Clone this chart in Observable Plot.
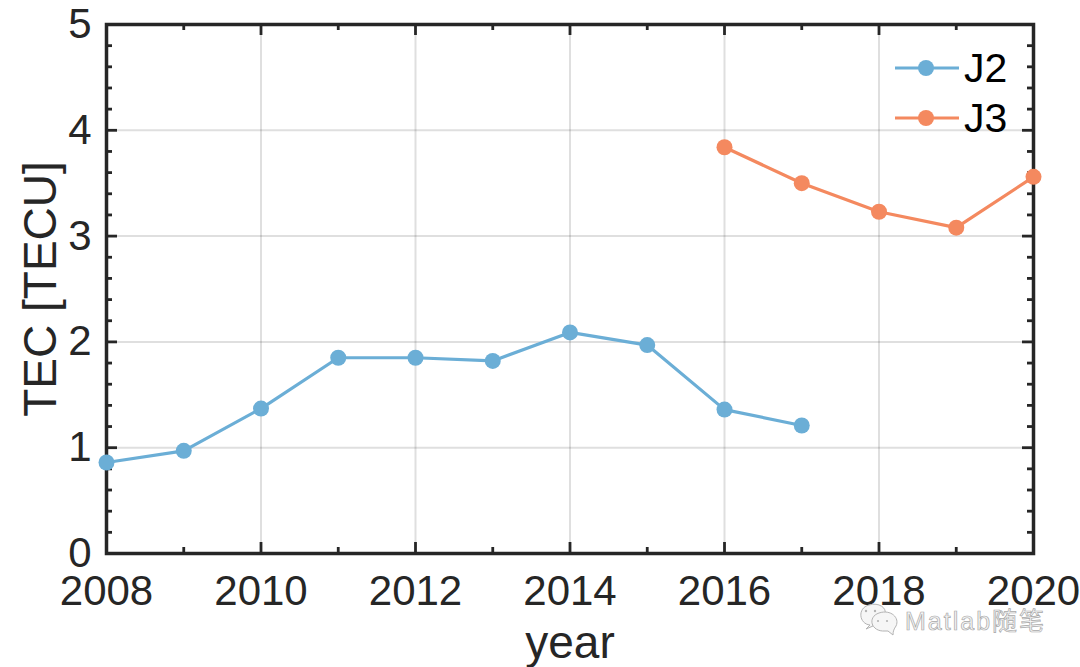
<!DOCTYPE html>
<html>
<head>
<meta charset="utf-8">
<script src="https://cdn.jsdelivr.net/npm/d3@7"></script>
<script src="https://cdn.jsdelivr.net/npm/@observablehq/plot@0.6"></script>
<style>
html,body{margin:0;padding:0;background:#fff;}
#wrap{position:relative;width:1080px;height:667px;overflow:hidden;font-family:"Liberation Sans",Arial,sans-serif;}
#wrap svg{display:block;}
.leg{position:absolute;left:964px;font-size:41px;line-height:40px;color:#000;}
.swatch{position:absolute;left:895px;}
#wm{position:absolute;left:905px;top:606px;font-size:25px;line-height:30px;letter-spacing:2px;color:#f4f4f4;-webkit-text-stroke:0.7px #a8a8a8;white-space:nowrap;font-family:"Liberation Sans","Noto Sans CJK SC",sans-serif;}
</style>
</head>
<body>
<div id="wrap"></div>
<script>
const yearsJ2 = [2008,2009,2010,2011,2012,2013,2014,2015,2016,2017];
const tecJ2 = [0.86,0.97,1.37,1.85,1.85,1.82,2.09,1.97,1.36,1.21];
const yearsJ3 = [2016,2017,2018,2019,2020];
const tecJ3 = [3.84,3.50,3.23,3.08,3.56];
const xMajor = [2008,2010,2012,2014,2016,2018,2020];
const xMinor = [2009,2011,2013,2015,2017,2019];
const yMajor = [0,1,2,3,4,5];
const yMinor = [0.2,0.4,0.6,0.8,1.2,1.4,1.6,1.8,2.2,2.4,2.6,2.8,3.2,3.4,3.6,3.8,4.2,4.4,4.6,4.8];
const blue = "#6baed6", orange = "#f4895f", ink = "#262626";

const W = 1080, H = 667, mL = 106, mR = 47, mT = 24, mB = 114;
const fw = W - mL - mR, fh = H - mT - mB;
const txt = 42, labelSize = 46;

const plot = Plot.plot({
  width: W, height: H,
  marginLeft: mL, marginRight: mR, marginTop: mT, marginBottom: mB,
  style: {background: "#fff", fontFamily: "'Liberation Sans',Arial,sans-serif", color: ink, overflow: "visible"},
  x: {domain: [2008, 2020]},
  y: {domain: [0, 5]},
  marks: [
    Plot.ruleX(xMajor.slice(1,-1), {x: d => d, stroke: ink, strokeOpacity: 0.15, strokeWidth: 2}),
    Plot.ruleY(yMajor.slice(1,-1), {y: d => d, stroke: ink, strokeOpacity: 0.15, strokeWidth: 2}),
    // inward ticks on all four sides
    Plot.ruleX(xMajor, {x: d => d, insetTop: fh - 11, stroke: ink, strokeWidth: 2.8}),
    Plot.ruleX(xMajor, {x: d => d, insetBottom: fh - 11, stroke: ink, strokeWidth: 2.8}),
    Plot.ruleX(xMinor, {x: d => d, insetTop: fh - 6, stroke: ink, strokeWidth: 2.8}),
    Plot.ruleX(xMinor, {x: d => d, insetBottom: fh - 6, stroke: ink, strokeWidth: 2.8}),
    Plot.ruleY(yMajor, {y: d => d, insetRight: fw - 11, stroke: ink, strokeWidth: 2.8}),
    Plot.ruleY(yMajor, {y: d => d, insetLeft: fw - 11, stroke: ink, strokeWidth: 2.8}),
    Plot.ruleY(yMinor, {y: d => d, insetRight: fw - 6, stroke: ink, strokeWidth: 2.8}),
    Plot.ruleY(yMinor, {y: d => d, insetLeft: fw - 6, stroke: ink, strokeWidth: 2.8}),
    Plot.frame({stroke: ink, strokeWidth: 3.5}),
    Plot.axisX({
      ticks: xMajor, tickSize: 0, tickPadding: 22, tickFormat: d => String(d),
      fontSize: txt, fill: ink, label: null
    }),
    Plot.axisY({
      ticks: yMajor, tickSize: 0, tickPadding: 15, tickFormat: d => String(d),
      fontSize: txt, fill: ink, label: null
    }),
    Plot.text(["year"], {text: d => d, frameAnchor: "bottom", lineAnchor: "middle", dy: 90, fontSize: labelSize, fill: ink}),
    Plot.text(["TEC [TECU]"], {text: d => d, frameAnchor: "left", textAnchor: "middle", lineAnchor: "middle", rotate: -90, dx: -65, fontSize: labelSize, fill: ink}),
    Plot.line(yearsJ2, {x: d => d, y: (d, i) => tecJ2[i], stroke: blue, strokeWidth: 3.2}),
    Plot.dot(yearsJ2, {x: d => d, y: (d, i) => tecJ2[i], fill: blue, r: 8}),
    Plot.line(yearsJ3, {x: d => d, y: (d, i) => tecJ3[i], stroke: orange, strokeWidth: 3.2}),
    Plot.dot(yearsJ3, {x: d => d, y: (d, i) => tecJ3[i], fill: orange, r: 8})
  ]
});
const wrap = document.getElementById("wrap");
wrap.appendChild(plot);

// legend, placed over the plot
[["J2", blue, 68], ["J3", orange, 118]].forEach(([name, color, cy]) => {
  const s = document.createElementNS("http://www.w3.org/2000/svg", "svg");
  s.setAttribute("class", "swatch");
  s.setAttribute("width", 64); s.setAttribute("height", 20);
  s.style.top = (cy - 10) + "px";
  s.innerHTML = `<line x1="0" x2="64" y1="10" y2="10" stroke="${color}" stroke-width="3.2"/><circle cx="31" cy="10" r="8" fill="${color}"/>`;
  wrap.appendChild(s);
  const t = document.createElement("div");
  t.className = "leg"; t.textContent = name; t.style.top = (cy - 20) + "px";
  wrap.appendChild(t);
});

// watermark
const icon = document.createElementNS("http://www.w3.org/2000/svg", "svg");
icon.setAttribute("width", 46); icon.setAttribute("height", 38);
icon.style.cssText = "position:absolute;left:855px;top:600px;";
icon.innerHTML = `<g fill="#f6f6f6" stroke="#b4b4b4" stroke-width="1"><path d="M15 25 C4 24 2 8 14 5 C24 2 32 8 30 14 C22 14 16 20 18 26 L11 29 Z"/><path d="M30 31 C16 32 12 17 24 13 C36 9 45 18 41 26 C39 29 38 31 38 35 L33 31 Z"/></g><g fill="#b4b4b4"><circle cx="11" cy="11" r="1.2"/><circle cx="20" cy="11" r="1.2"/><circle cx="23" cy="21" r="1.1"/><circle cx="32" cy="21" r="1.1"/></g>`;
wrap.appendChild(icon);
const wm = document.createElement("div");
wm.id = "wm"; wm.textContent = "Matlab随笔";
wrap.appendChild(wm);
</script>
</body>
</html>
